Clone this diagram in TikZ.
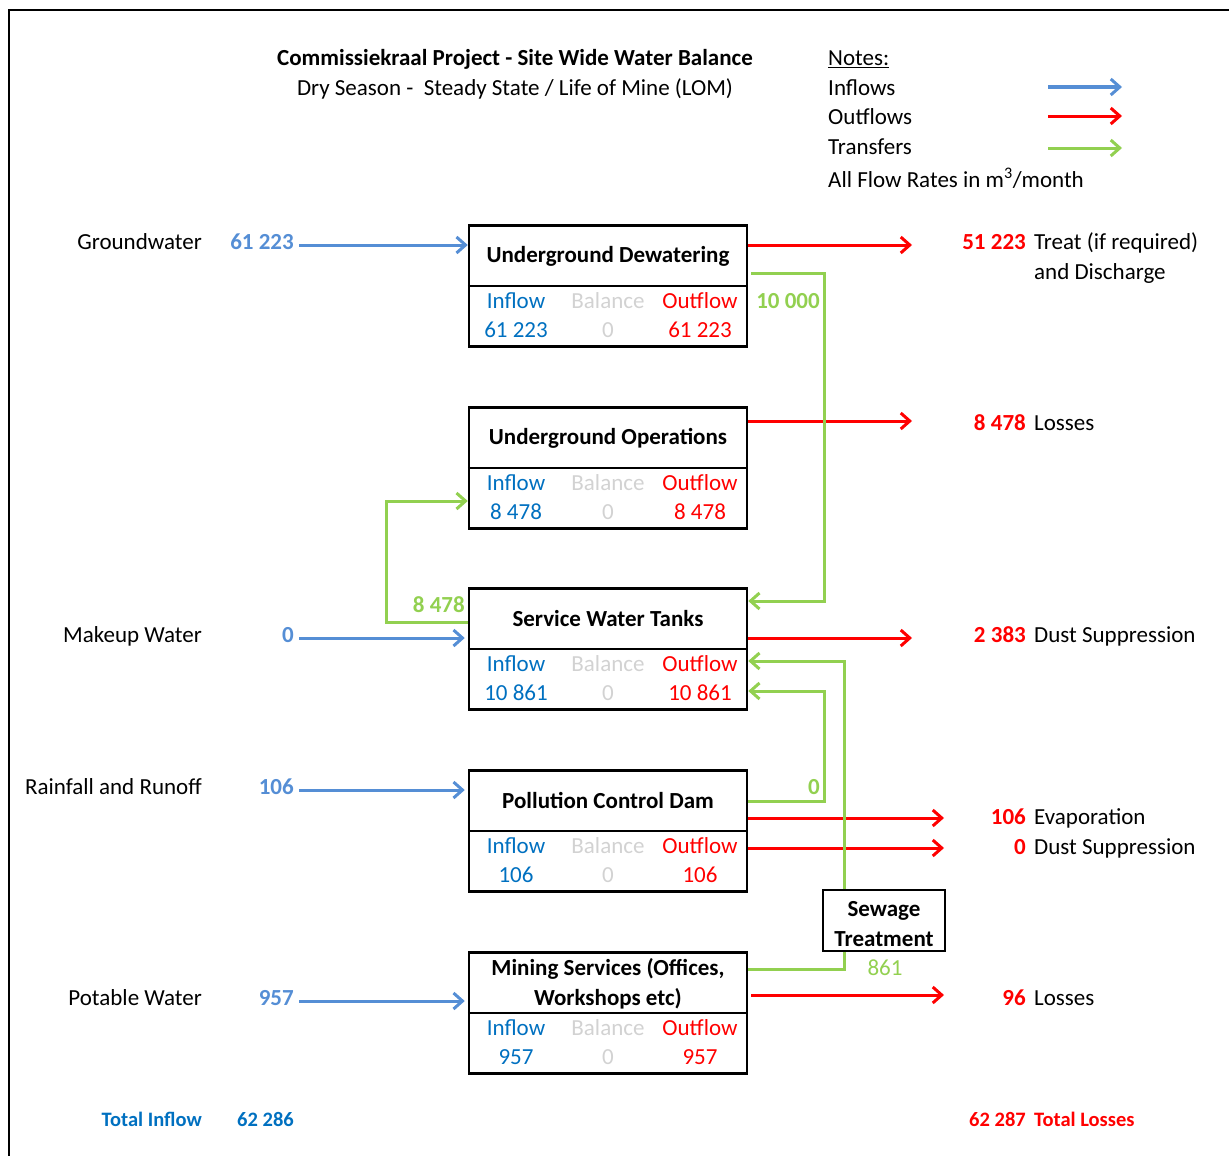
\documentclass[tikz,border=0pt]{standalone}
\usepackage{fontspec}
\setmainfont{Carlito}
\usetikzlibrary{arrows.meta,calc}
\definecolor{inblue}{RGB}{0,112,192}
\definecolor{arblue}{RGB}{85,142,213}
\definecolor{outred}{RGB}{255,0,0}
\definecolor{trgreen}{RGB}{146,208,80}
\definecolor{balgray}{RGB}{210,210,210}
\newcommand{\fs}{\fontsize{23}{30}\selectfont}
\newcommand{\fst}{\fontsize{20.5}{26}\selectfont}
\tikzset{
  txt/.style={inner sep=0pt, text height=15pt, text depth=0pt, font=\fs},
  btxt/.style={txt, font=\fs\bfseries},
  totxt/.style={inner sep=0pt, text height=13pt, text depth=0pt, font=\fst\bfseries},
  wbox/.style={draw, line width=2.5pt, minimum width=278pt, minimum height=121pt, inner sep=0pt},
  sbox/.style={draw, line width=2.5pt, minimum width=122pt, minimum height=61pt, inner sep=0pt},
  inarr/.style={draw=arblue, line width=3pt, -{Straight Barb[length=9pt,width=16pt,line width=3pt]}},
  outarr/.style={draw=outred, line width=3pt, -{Straight Barb[length=9pt,width=16pt,line width=3pt]}},
  trarr/.style={draw=trgreen, line width=3pt, -{Straight Barb[length=9pt,width=16pt,line width=3pt]}},
  trline/.style={draw=trgreen, line width=3pt},
}
\newcommand{\flowbox}[4]{%
  \node[wbox, anchor=north] (#1) at (608,#2) {};
  \draw[line width=2.5pt] ($(#1.north west)+(0,62)$) -- ($(#1.north east)+(0,62)$);
  \node[txt, text=inblue] (#1-il) at (516,#2+77) {Inflow};
  \node[txt, text=balgray] (#1-bl) at (608,#2+77) {Balance};
  \node[txt, text=outred] (#1-ol) at (700,#2+77) {Outflow};
  \node[txt, text=inblue] (#1-iv) at (516,#2+106) {#3};
  \node[txt, text=balgray] (#1-bv) at (608,#2+106) {0};
  \node[txt, text=outred] (#1-ov) at (700,#2+106) {#4};
}
\begin{document}
\begin{tikzpicture}[x=1pt,y=-1pt]
\useasboundingbox (0,0) rectangle (1229,1156);
\draw[line width=2pt] (9,1160) -- (9,10) -- (1232,10);

% title
\node[btxt] (title) at (515,58) {Commissiekraal Project - Site Wide Water Balance};
\node[txt] (subtitle) at (515,88) {Dry Season -\ \ Steady State / Life of Mine (LOM)};

% notes
\node[txt, anchor=west] (notes) at (828,58) {\underline{Notes:}};
\node[txt, anchor=west] (nin) at (828,88) {Inflows};
\node[txt, anchor=west] (nout) at (828,117) {Outflows};
\node[txt, anchor=west] (ntr) at (828,147) {Transfers};
\node[txt, anchor=west] (nunit) at (828,180) {All Flow Rates in m\textsuperscript{3}/month};
\coordinate (lg1a) at (1048,87); \coordinate (lg1b) at (1122,87);
\coordinate (lg2a) at (1048,116); \coordinate (lg2b) at (1122,116);
\coordinate (lg3a) at (1048,148); \coordinate (lg3b) at (1122,148);
\draw[inarr] (lg1a) -- (lg1b);
\draw[outarr] (lg2a) -- (lg2b);
\draw[trarr] (lg3a) -- (lg3b);

% boxes
\flowbox{b1}{224}{61 223}{61 223}
\node[btxt] (b1t) at (608,255) {Underground Dewatering};
\flowbox{b2}{406}{8 478}{8 478}
\node[btxt] (b2t) at (608,437) {Underground Operations};
\flowbox{b3}{587}{10 861}{10 861}
\node[btxt] (b3t) at (608,619) {Service Water Tanks};
\flowbox{b4}{769}{106}{106}
\node[btxt] (b4t) at (608,801) {Pollution Control Dam};
\flowbox{b5}{951}{957}{957}
\node[btxt] (b5t) at (608,968) {Mining Services (Offices,};
\node[btxt] (b5t2) at (608,998) {Workshops etc)};

\node[sbox] (st) at (884,920.5) {};
\node[btxt] (stt1) at (884,909) {Sewage};
\node[btxt] (stt2) at (884,939) {Treatment};

% inflows
\node[txt, anchor=east] (gwL) at (202,242) {Groundwater};
\node[btxt, anchor=east, text=arblue] (gwV) at (294,242) {61 223};
\coordinate (gwA) at (299,245);
\draw[inarr] (gwA) -- (b1.west |- gwA);

\node[txt, anchor=east] (mwL) at (202,635) {Makeup Water};
\node[btxt, anchor=east, text=arblue] (mwV) at (294,635) {0};
\coordinate (mwA) at (299,638);
\draw[inarr] (mwA) -- ($(b3.west |- mwA)+(-3,0)$);

\node[txt, anchor=east] (rfL) at (202,787) {Rainfall and Runoff};
\node[btxt, anchor=east, text=arblue] (rfV) at (294,787) {106};
\coordinate (rfA) at (299,790);
\draw[inarr] (rfA) -- ($(b4.west |- rfA)+(-3,0)$);

\node[txt, anchor=east] (pwL) at (202,998) {Potable Water};
\node[btxt, anchor=east, text=arblue] (pwV) at (294,998) {957};
\coordinate (pwA) at (299,1001);
\draw[inarr] (pwA) -- ($(b5.west |- pwA)+(-3,0)$);

\node[totxt, anchor=east, text=inblue] (tiL) at (202,1120) {Total Inflow};
\node[totxt, anchor=east, text=inblue] (tiV) at (294,1120) {62 286};

% outflows
\coordinate (o1) at (912,245);
\draw[outarr] (b1.east |- o1) -- (o1);
\node[btxt, anchor=east, text=outred] (o1V) at (1026,242) {51 223};
\node[txt, anchor=west] (o1L) at (1034,242) {Treat (if required)};
\node[txt, anchor=west] (o1L2) at (1034,272) {and Discharge};

\coordinate (o2) at (912,421);
\draw[outarr] (b2.east |- o2) -- (o2);
\node[btxt, anchor=east, text=outred] (o2V) at (1026,423) {8 478};
\node[txt, anchor=west] (o2L) at (1034,423) {Losses};

\coordinate (o3) at (912,638);
\draw[outarr] (b3.east |- o3) -- (o3);
\node[btxt, anchor=east, text=outred] (o3V) at (1026,635) {2 383};
\node[txt, anchor=west] (o3L) at (1034,635) {Dust Suppression};

\coordinate (o4) at (944,818);
\draw[outarr] (b4.east |- o4) -- (o4);
\node[btxt, anchor=east, text=outred] (o4V) at (1026,817) {106};
\node[txt, anchor=west] (o4L) at (1034,817) {Evaporation};

\coordinate (o5) at (944,848);
\draw[outarr] (b4.east |- o5) -- (o5);
\node[btxt, anchor=east, text=outred] (o5V) at (1026,847) {0};
\node[txt, anchor=west] (o5L) at (1034,847) {Dust Suppression};

\coordinate (o6) at (944,995);
\draw[outarr] ($(b5.east |- o6)+(3,0)$) -- (o6);
\node[btxt, anchor=east, text=outred] (o6V) at (1026,998) {96};
\node[txt, anchor=west] (o6L) at (1034,998) {Losses};

\node[totxt, anchor=east, text=outred] (toV) at (1026,1120) {62 287};
\node[totxt, anchor=west, text=outred] (toL) at (1034,1120) {Total Losses};

% transfers
\draw[trarr] ($(b1.north east)+(3,49)$) -- (824,273) |- ($(b3.north east)+(0,14)$);
\node[btxt, text=trgreen] (t1V) at (788,301) {10 000};

\draw[trarr] ($(b3.north west)+(0,35)$) -- (386,622) |- ($(b2.north west)+(0,95)$);
\node[btxt, anchor=east, text=trgreen] (t2V) at (465,605) {8 478};

\draw[trarr] ($(b4.north east)+(0,32)$) -- (824,801) |- ($(b3.north east)+(0,104)$);
\node[btxt, text=trgreen] (t3V) at (814,787) {0};

\draw[trline] ($(b5.north east)+(0,18)$) -| ($(st.south west)+(23,0)$);
\draw[trarr] ($(st.north west)+(23,0)$) |- ($(b3.north east)+(0,74)$);
\node[txt, text=trgreen] (t4V) at (885,968) {861};
\end{tikzpicture}
\end{document}
